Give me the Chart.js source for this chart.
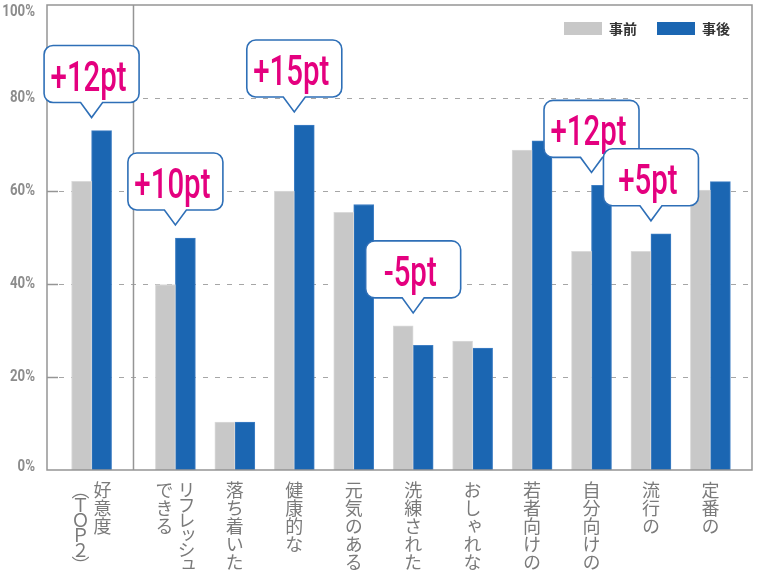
<!DOCTYPE html>
<html lang="ja">
<head>
<meta charset="utf-8">
<script src="https://cdn.jsdelivr.net/npm/chart.js@4.4.0/dist/chart.umd.min.js"></script>
<style>
    html, body { margin: 0; padding: 0; background: #fff; }
    #wrap { position: relative; width: 760px; height: 580px; overflow: hidden; }
    canvas { display: block; }
    .cat {
        position: absolute;
        top: 481px;
        writing-mode: vertical-rl;
        font-family: 'Noto Sans CJK JP', sans-serif;
        font-size: 18px;
        line-height: 22px;
        color: #7a7a7a;
        white-space: nowrap;
        transform: translateX(-50%);
    }
    .cat .tight { letter-spacing: -3px; }
</style>
</head>
<body>
<div id="wrap"><canvas id="chart" width="760" height="580"></canvas></div>
<script>
// Data
const categories = [
    '好意度\n（ＴＯＰ２）', 'リフレッシュ\nできる', '落ち着いた', '健康的な', '元気のある',
    '洗練された', 'おしゃれな', '若者向けの', '自分向けの', '流行の', '定番の'
];
const beforeValues = [62.1, 39.9, 10.3, 60.0, 55.4, 31.0, 27.7, 68.8, 47.0, 47.0, 60.2];
const afterValues  = [73.0, 49.9, 10.3, 74.2, 57.1, 26.8, 26.2, 70.8, 61.2, 50.8, 62.0];
const seriesNames = ['事前', '事後'];
const yTicks = [0, 20, 40, 60, 80, 100];
const calloutIndex = [0, 1, 3, 5, 8, 9];
const calloutText = ['+12pt', '+10pt', '+15pt', '-5pt', '+12pt', '+5pt'];

// Layout / style
const GROUP_GAP = 0.41;   // extra space after the first (summary) category
const xPos = i => (i === 0 ? 0 : i + GROUP_GAP);
const GRAY = '#c8c8c8';
const BLUE = '#1b66b2';
const LATIN = "Roboto, 'Liberation Sans', sans-serif";

// draw text squeezed horizontally (no condensed face is installed)
function narrowText(ctx, text, x, y, squeeze) {
    ctx.save();
    ctx.translate(x, y);
    ctx.scale(squeeze, 1);
    ctx.fillText(text, 0, 0);
    ctx.restore();
}

const framePlugin = {
    id: 'frame',
    beforeDatasetsDraw(chart) {
        const { ctx, chartArea: a, scales: { y } } = chart;
        ctx.save();
        // dashed grid lines
        ctx.strokeStyle = '#a6a6a6';
        ctx.lineWidth = 1.2;
        ctx.setLineDash([5, 7]);
        yTicks.slice(1, -1).forEach(t => {
            const py = Math.round(y.getPixelForValue(t)) + 0.5;
            ctx.beginPath();
            ctx.moveTo(a.left, py);
            ctx.lineTo(a.right, py);
            ctx.stroke();
        });
        ctx.setLineDash([]);
        // y labels
        ctx.fillStyle = '#8c8c8c';
        ctx.font = 'bold 17px ' + LATIN;
        ctx.textAlign = 'right';
        ctx.textBaseline = 'middle';
        yTicks.forEach(t => {
            let py = y.getPixelForValue(t);
            py = Math.min(Math.max(py, a.top + 7), a.bottom - 3);
            narrowText(ctx, t + '%', a.left - 12, py, 0.78);
        });
        ctx.restore();
    },
    afterDatasetsDraw(chart) {
        const { ctx, chartArea: a, scales: { x, y } } = chart;
        ctx.save();
        ctx.strokeStyle = '#959595';
        ctx.lineWidth = 1.5;
        ctx.strokeRect(a.left, a.top, a.right - a.left, a.bottom - a.top);
        // short solid ticks inside the left axis
        yTicks.slice(1, -1).forEach(t => {
            const py = Math.round(y.getPixelForValue(t)) + 0.5;
            ctx.beginPath();
            ctx.moveTo(a.left, py);
            ctx.lineTo(a.left + 11, py);
            ctx.stroke();
        });
        // separator after the summary category
        const sx = x.getPixelForValue((xPos(0) + xPos(1)) / 2);
        ctx.beginPath();
        ctx.moveTo(sx, a.top);
        ctx.lineTo(sx, a.bottom);
        ctx.stroke();

        // legend
        ctx.font = 'bold 14px "Noto Sans CJK JP", sans-serif';
        ctx.textBaseline = 'middle';
        ctx.textAlign = 'left';
        const colors = [GRAY, BLUE];
        const items = seriesNames.map((n, i) => ({ n, c: colors[i], w: 38 + 7 + ctx.measureText(n).width }));
        const total = items.reduce((s, it) => s + it.w, 0) + 20 * (items.length - 1);
        let lx = a.right - 22 - total;
        items.forEach(it => {
            ctx.fillStyle = it.c;
            ctx.fillRect(lx, a.top + 17, 38, 13);
            ctx.fillStyle = '#333';
            ctx.fillText(it.n, lx + 45, a.top + 24);
            lx += it.w + 20;
        });
        ctx.restore();
    },
    afterDraw(chart) {
        const { ctx, scales: { x, y } } = chart;
        calloutIndex.forEach((idx, k) => {
            const cx = x.getPixelForValue(xPos(idx));
            const topVal = Math.max(beforeValues[idx], afterValues[idx]);
            const tipY = y.getPixelForValue(topVal) - 13;
            drawCallout(ctx, cx, tipY, calloutText[k]);
        });
    }
};

function drawCallout(ctx, cx, tipY, text) {
    const w = 95, h = 57, ph = 15, pw = 11, r = 9;
    const bottom = tipY - ph, top = bottom - h;
    const left = cx - w / 2, right = cx + w / 2;
    ctx.save();
    ctx.beginPath();
    ctx.moveTo(left + r, top);
    ctx.lineTo(right - r, top);
    ctx.arcTo(right, top, right, top + r, r);
    ctx.lineTo(right, bottom - r);
    ctx.arcTo(right, bottom, right - r, bottom, r);
    ctx.lineTo(cx + pw, bottom);
    ctx.lineTo(cx, tipY);
    ctx.lineTo(cx - pw, bottom);
    ctx.lineTo(left + r, bottom);
    ctx.arcTo(left, bottom, left, bottom - r, r);
    ctx.lineTo(left, top + r);
    ctx.arcTo(left, top, left + r, top, r);
    ctx.closePath();
    ctx.fillStyle = '#fff';
    ctx.fill();
    ctx.strokeStyle = '#2e6fb7';
    ctx.lineWidth = 1.6;
    ctx.stroke();
    ctx.fillStyle = '#e4007f';
    ctx.font = '500 42px ' + LATIN;
    ctx.textAlign = 'center';
    ctx.textBaseline = 'alphabetic';
    narrowText(ctx, text, cx - 3, top + 45, 0.7);
    ctx.restore();
}

const lastX = xPos(categories.length - 1);

const chart = new Chart(document.getElementById('chart'), {
    type: 'bar',
    data: {
        datasets: [
            {
                label: seriesNames[0],
                data: beforeValues.map((v, i) => ({ x: xPos(i), y: v })),
                backgroundColor: GRAY,
                borderColor: '#dadada',
                borderWidth: 1,
                barThickness: 20
            },
            {
                label: seriesNames[1],
                data: afterValues.map((v, i) => ({ x: xPos(i), y: v })),
                backgroundColor: BLUE,
                borderColor: '#3f7fc4',
                borderWidth: 1,
                barThickness: 20
            }
        ]
    },
    options: {
        responsive: false,
        animation: false,
        layout: { padding: { top: 5, right: 8, bottom: 110, left: 0 } },
        plugins: {
            legend: { display: false },
            tooltip: { enabled: false }
        },
        scales: {
            x: {
                type: 'linear',
                display: false,
                offset: false,
                min: -0.75,
                max: lastX + 0.70
            },
            y: {
                min: 0,
                max: 100,
                ticks: { display: false, stepSize: 20 },
                grid: { display: false },
                border: { display: false },
                afterFit: scale => { scale.width = 47; }
            }
        }
    },
    plugins: [framePlugin]
});

// vertical category labels
const wrap = document.getElementById('wrap');
categories.forEach((c, i) => {
    const div = document.createElement('div');
    div.className = 'cat';
    div.innerHTML = c.split('\n')
        .map(line => line.length > 5 ? `<span class="tight">${line}</span>` : line)
        .join('<br>');
    div.style.left = chart.scales.x.getPixelForValue(xPos(i)) + 'px';
    wrap.appendChild(div);
});
</script>
</body>
</html>
